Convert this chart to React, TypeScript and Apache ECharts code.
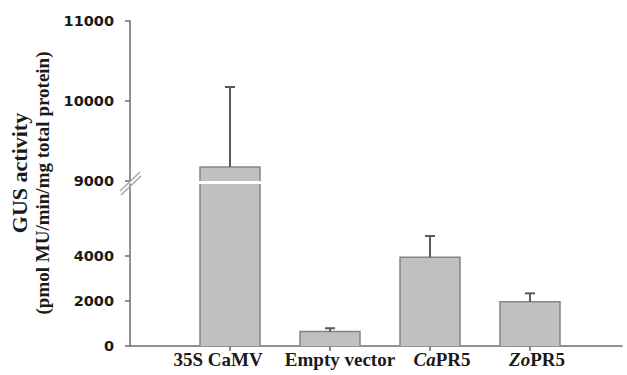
import React, { useEffect, useRef } from "react";
import * as echarts from "echarts";

const categories = ["35S CaMV", "Empty vector", "CaPR5", "ZoPR5"];
const italicPrefix = ["", "", "Ca", "Zo"];
const means = [9175, 640, 3940, 1970];
const errors = [1000, 150, 950, 370];
const lowerTicks = [0, 2000, 4000];
const upperTicks = [9000, 10000, 11000];
const lowerMax = 7200;
const upperMin = 9000;
const upperMax = 11000;

const AXIS_COLOR = "#6e6e6e";
const TEXT_COLOR = "#1a1a1a";
const BAR_FILL = "#c0c0c0";
const BAR_EDGE = "#858585";
// horizontal nudges of the category labels (px, as in the source figure)
const LABEL_SHIFT = [-12, 10, 12, 7];

function barRender(params: any, api: any) {
  const cs = params.coordSys;
  const x = api.value(0);
  const v = api.value(1);
  const w = api.size([0.6, 0])[0];
  const top = api.coord([x, v]);
  const base = api.coord([x, 0]);
  const yMin = cs.y;
  const yMax = cs.y + cs.height;
  const yTop = Math.max(top[1], yMin);
  const yBot = Math.min(base[1], yMax);
  if (yTop >= yBot) return null;
  const x0 = top[0] - w / 2;
  const x1 = top[0] + w / 2;
  const topInside = top[1] >= yMin;
  const edge = { stroke: BAR_EDGE, lineWidth: 1.5, fill: null };
  const children: any[] = [
    { type: "rect", shape: { x: x0, y: yTop, width: w, height: yBot - yTop }, style: { fill: BAR_FILL } },
  ];
  if (topInside) {
    children.push({
      type: "polyline",
      shape: { points: [[x0, yBot], [x0, yTop], [x1, yTop], [x1, yBot]] },
      style: edge,
    });
  } else {
    children.push({ type: "line", shape: { x1: x0, y1: yTop, x2: x0, y2: yBot }, style: edge });
    children.push({ type: "line", shape: { x1: x1, y1: yTop, x2: x1, y2: yBot }, style: edge });
  }
  return { type: "group", children };
}

function errorRender(params: any, api: any) {
  const x = api.value(0);
  const lo = api.value(1);
  const hi = api.value(2);
  const a = api.coord([x, lo]);
  const b = api.coord([x, hi]);
  const style = { stroke: "#5a5a5a", lineWidth: 2 };
  return {
    type: "group",
    children: [
      { type: "line", shape: { x1: a[0], y1: a[1], x2: b[0], y2: b[1] }, style },
      { type: "line", shape: { x1: b[0] - 5, y1: b[1], x2: b[0] + 5, y2: b[1] }, style },
    ],
  };
}

export default function App() {
  const ref = useRef<HTMLDivElement>(null);
  useEffect(() => {
    document.body.style.margin = "0";
    const chart = echarts.init(ref.current!, null, { renderer: "svg" });
    const barData = means.map((v, i) => [i + 1, v]);
    const errLower = means
      .map((v, i) => [i + 1, v, v + errors[i]])
      .filter((d) => d[2] <= lowerMax);
    const errUpper = means
      .map((v, i) => [i + 1, v, v + errors[i]])
      .filter((d) => d[1] > lowerMax);
    const yLabel = {
      fontFamily: "DejaVu Sans",
      fontWeight: "bold" as const,
      fontSize: 14.5,
      color: TEXT_COLOR,
      margin: 16,
      formatter: (v: number) => String(v),
    };
    const FS = 19;
    const rich: any = {};
    LABEL_SHIFT.forEach((s, i) => {
      const pad = [0, s < 0 ? -2 * s : 0, 0, s > 0 ? 2 * s : 0];
      rich["b" + i] = { fontFamily: "Liberation Serif", fontWeight: "bold", fontSize: FS, color: TEXT_COLOR, padding: pad };
      rich["i" + i] = {
        fontFamily: "Liberation Serif",
        fontWeight: "bold",
        fontStyle: "italic",
        fontSize: FS,
        color: TEXT_COLOR,
        padding: [0, 0, 0, s > 0 ? 2 * s : 0],
      };
      rich["r" + i] = { fontFamily: "Liberation Serif", fontWeight: "bold", fontSize: FS, color: TEXT_COLOR };
    });
    const option: any = {
      animation: false,
      grid: [
        { left: 130, top: 184, width: 492, height: 162 },
        { left: 130, top: 21, width: 492, height: 160 },
      ],
      xAxis: [
        {
          gridIndex: 0,
          type: "value",
          min: 0,
          max: 4.92,
          interval: 1,
          splitLine: { show: false },
          axisLine: { show: true, lineStyle: { color: AXIS_COLOR, width: 1.5 } },
          axisTick: { show: true, customValues: [1, 2, 3, 4], length: 5, lineStyle: { color: AXIS_COLOR, width: 1.5 } },
          axisLabel: {
            customValues: [1, 2, 3, 4],
            margin: 4,
            formatter: (v: number) => {
              const i = Math.round(v) - 1;
              if (i < 0 || i >= categories.length) return "";
              const p = italicPrefix[i];
              if (p) return `{i${i}|${p}}{r${i}|${categories[i].slice(p.length)}}`;
              return `{b${i}|${categories[i]}}`;
            },
            rich,
          },
        },
        { gridIndex: 1, type: "value", min: 0, max: 4.92, show: false },
      ],
      yAxis: [
        {
          gridIndex: 0,
          type: "value",
          min: 0,
          max: lowerMax,
          splitLine: { show: false },
          axisLine: { show: true, lineStyle: { color: AXIS_COLOR, width: 1.5 } },
          axisTick: { show: true, customValues: lowerTicks, length: 5, lineStyle: { color: AXIS_COLOR, width: 1.5 } },
          axisLabel: { ...yLabel, customValues: lowerTicks },
        },
        {
          gridIndex: 1,
          type: "value",
          min: upperMin,
          max: upperMax,
          splitLine: { show: false },
          axisLine: { show: true, lineStyle: { color: AXIS_COLOR, width: 1.5 } },
          axisTick: { show: true, customValues: upperTicks, length: 5, lineStyle: { color: AXIS_COLOR, width: 1.5 } },
          axisLabel: { ...yLabel, customValues: upperTicks },
        },
      ],
      series: [
        { type: "custom", xAxisIndex: 0, yAxisIndex: 0, data: barData, renderItem: barRender, z: 2 },
        { type: "custom", xAxisIndex: 1, yAxisIndex: 1, data: barData, renderItem: barRender, z: 2 },
        { type: "custom", xAxisIndex: 0, yAxisIndex: 0, data: errLower, renderItem: errorRender, z: 5 },
        { type: "custom", xAxisIndex: 1, yAxisIndex: 1, data: errUpper, renderItem: errorRender, z: 5 },
      ],
      graphic: [
        { type: "line", shape: { x1: 120, y1: 191, x2: 140, y2: 172 }, style: { stroke: "#a8a8a8", lineWidth: 1.5 }, z: 10 },
        { type: "line", shape: { x1: 121, y1: 195, x2: 141, y2: 176 }, style: { stroke: "#a8a8a8", lineWidth: 1.5 }, z: 10 },
        {
          type: "text",
          x: 19,
          y: 173,
          rotation: Math.PI / 2,
          style: {
            text: "GUS activity",
            fontFamily: "Liberation Serif",
            fontWeight: "bold",
            fontSize: 22,
            fill: TEXT_COLOR,
            textAlign: "center",
            textVerticalAlign: "middle",
          },
        },
        {
          type: "text",
          x: 42,
          y: 183,
          rotation: Math.PI / 2,
          style: {
            text: "(pmol MU/min/mg total protein)",
            fontFamily: "Liberation Serif",
            fontWeight: "bold",
            fontSize: 19,
            fill: TEXT_COLOR,
            textAlign: "center",
            textVerticalAlign: "middle",
          },
        },
      ],
    };
    chart.setOption(option);
    return () => chart.dispose();
  }, []);
  return <div ref={ref} style={{ width: 627, height: 375 }} />;
}
